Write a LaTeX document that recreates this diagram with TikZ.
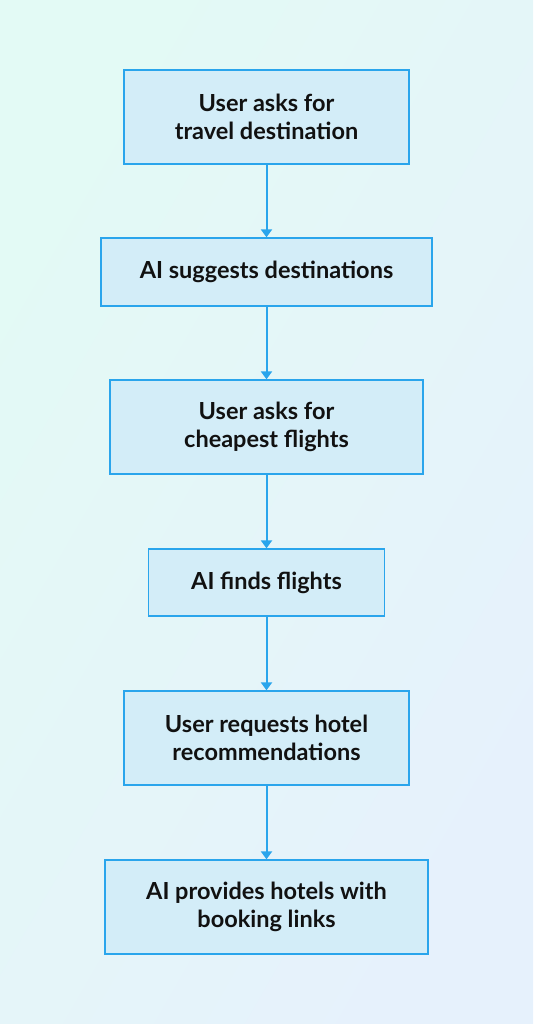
\documentclass[tikz,border=0pt]{standalone}
\usepackage{fontspec}
\setmainfont{Lato}
\usepackage{tikz}
\usetikzlibrary{arrows.meta}

\definecolor{bgmint}{HTML}{E3FAF5}
\definecolor{bgblue}{HTML}{E6F1FC}
\definecolor{boxfill}{HTML}{D3EDF8}
\definecolor{boxline}{HTML}{2AA5EC}
\definecolor{inkdark}{HTML}{111111}

\tikzset{
  stepbox/.style={draw=boxline, line width=1.3pt, fill=boxfill, align=center,
    inner sep=0pt, font=\fontsize{23.5}{28}\selectfont\bfseries, text=inkdark},
  flowarrow/.style={draw=boxline, line width=2pt, -{Triangle[length=8pt,width=11pt]}}
}

\begin{document}
\begin{tikzpicture}[x=1pt,y=-1pt]
    % background
    \shade[left color=bgmint, right color=bgblue, shading angle=60] (0,0) rectangle (533,1024);
    \useasboundingbox (0,0) rectangle (533,1024);

    % Boxes
    \node [stepbox, minimum width=285pt, minimum height=94pt] (ask) at (266.5,117) {User asks for\\travel destination};
    \node [stepbox, minimum width=331pt, minimum height=68pt] (suggest) at (266.5,272) {AI suggests destinations};
    \node [stepbox, minimum width=313pt, minimum height=94pt] (cheap) at (266.5,427) {User asks for\\cheapest flights};
    \node [stepbox, minimum width=236pt, minimum height=67pt] (flights) at (266.5,582.5) {AI finds flights};
    \node [stepbox, minimum width=285pt, minimum height=94pt] (hotel) at (266.5,738) {User requests hotel\\recommendations};
    \node [stepbox, minimum width=323pt, minimum height=94pt] (links) at (266.5,907) {AI provides hotels with\\booking links};

    % Arrows
    \draw [flowarrow] (ask) -- (suggest);
    \draw [flowarrow] (suggest) -- (cheap);
    \draw [flowarrow] (cheap) -- (flights);
    \draw [flowarrow] (flights) -- (hotel);
    \draw [flowarrow] (hotel) -- (links);
\end{tikzpicture}
\end{document}
